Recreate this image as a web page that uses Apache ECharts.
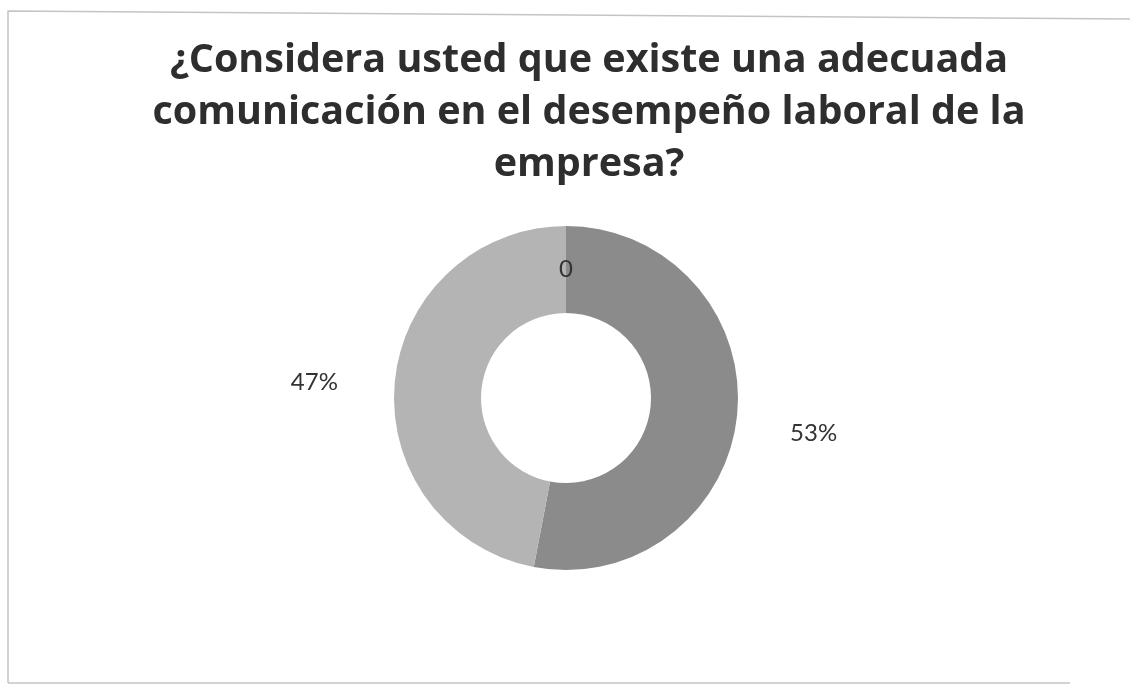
<!DOCTYPE html>
<html><head><meta charset="utf-8">
<script src="https://cdn.jsdelivr.net/npm/echarts@6/dist/echarts.min.js"></script>
<style>html,body{margin:0;padding:0;background:#fff}#c{width:1130px;height:687px}</style>
</head><body><div id="c"></div>
<script>
const titleText = '¿Considera usted que existe una adecuada\ncomunicación en el desempeño laboral de la\nempresa?';
const categories = ['Cero', 'Sí', 'No'];
const values = [0, 53, 47];
const sliceColors = ['#6f6f6f', '#8b8b8b', '#b4b4b4'];

const chart = echarts.init(document.getElementById('c'), null, {renderer: 'canvas'});
const data = categories.map((n, i) => ({
  name: n,
  value: values[i],
  itemStyle: {color: sliceColors[i], borderColor: values[i] === 0 ? '#555' : 'rgba(0,0,0,0)', borderWidth: values[i] === 0 ? 1 : 0},
  label: values[i] === 0 ? {position: 'inside'} : {}
}));
chart.setOption({
  backgroundColor: '#fff',
  title: {
    text: titleText, left: 584, top: 30,
    textAlign: 'center',
    textStyle: {fontFamily: 'Open Sans', fontWeight: 'bold', fontSize: 39.5, lineHeight: 52, color: '#2e2e2e'}
  },
  graphic: [
    {type: 'polyline', shape: {points: [[8, 683], [8, 11], [1130, 19]]}, style: {fill: 'none', stroke: '#c4c4c4', lineWidth: 1.5}, silent: true},
    {type: 'line', shape: {x1: 8, y1: 683, x2: 1070, y2: 683}, style: {stroke: '#c4c4c4', lineWidth: 1.5}, silent: true}
  ],
  series: [{
    type: 'pie',
    center: [566, 398],
    radius: [85, 172],
    startAngle: 90,
    clockwise: true,
    avoidLabelOverlap: false,
    minShowLabelAngle: 0,
    label: {
      show: true, position: 'outside',
      fontFamily: 'Lato', fontSize: 24, color: '#333',
      formatter: p => p.value === 0 ? '0' : Math.round(p.percent) + '%'
    },
    labelLine: {show: false, length: 30, length2: 18},
    labelLayout: p => p.dataIndex === 1 ? {dy: 16} : (p.dataIndex === 2 ? {dy: 3, dx: -4} : {dy: 3}),
    data: data
  }]
});
</script></body></html>
